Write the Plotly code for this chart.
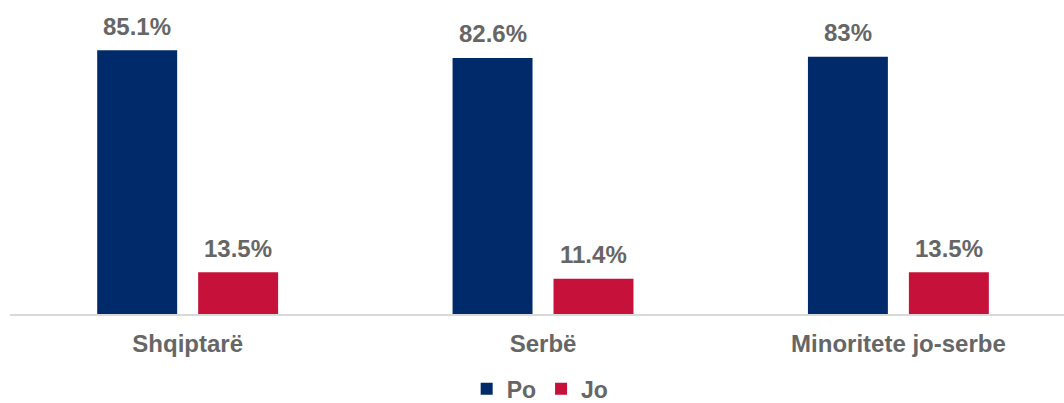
import plotly.graph_objects as go

categories = ["Shqiptarë", "Serbë", "Minoritete jo-serbe"]
po_values = [85.1, 82.6, 83]
jo_values = [13.5, 11.4, 13.5]
po_labels = ["85.1%", "82.6%", "83%"]
jo_labels = ["13.5%", "11.4%", "13.5%"]

BLUE = "#002A6A"
RED = "#C6123A"
GREY = "#666666"
FONT = "Liberation Sans, Arial, sans-serif"
FS = 24

BAR_W = 0.225
PO_OFF = -0.2546
JO_OFF = 0.0295

fig = go.Figure()
fig.add_trace(go.Bar(name="Po", x=categories, y=po_values, width=BAR_W, offset=PO_OFF,
                     marker=dict(color=BLUE, line=dict(width=0))))
fig.add_trace(go.Bar(name="Jo", x=categories, y=jo_values, width=BAR_W, offset=JO_OFF,
                     marker=dict(color=RED, line=dict(width=0))))

# value labels above bars
for i, cat in enumerate(categories):
    for off, vals, labs in ((PO_OFF, po_values, po_labels), (JO_OFF, jo_values, jo_labels)):
        fig.add_annotation(
            x=i + off + BAR_W / 2, y=vals[i], xref="x", yref="y", text=labs[i],
            showarrow=False, yanchor="middle", yshift=24,
            font=dict(family=FONT, size=FS, color=GREY, weight="bold"),
        )

fig.update_layout(
    width=1064, height=403,
    margin=dict(l=10, r=0, t=4, b=89, autoexpand=False),
    paper_bgcolor="white", plot_bgcolor="white",
    barmode="overlay",
    font=dict(family=FONT, size=FS, color=GREY, weight="bold"),
    legend=dict(orientation="h", x=0.503, xanchor="center", y=-0.241, yanchor="middle",
                font=dict(family=FONT, size=23, color=GREY, weight="bold"),
                itemwidth=30, tracegroupgap=0),
    showlegend=True,
)
fig.update_xaxes(
    type="category", range=[-0.5, 2.466],
    showline=True, linecolor="#D9D9D9", linewidth=1.5,
    showgrid=False, ticks="", ticklabelstandoff=7,
    tickfont=dict(family=FONT, size=FS, color=GREY, weight="bold"),
)
fig.update_yaxes(range=[0, 100], visible=False, showgrid=False, zeroline=False)

fig.write_html("out.html", config={"displayModeBar": False},
               post_script="document.body.style.margin='0';document.body.style.overflow='hidden';")
